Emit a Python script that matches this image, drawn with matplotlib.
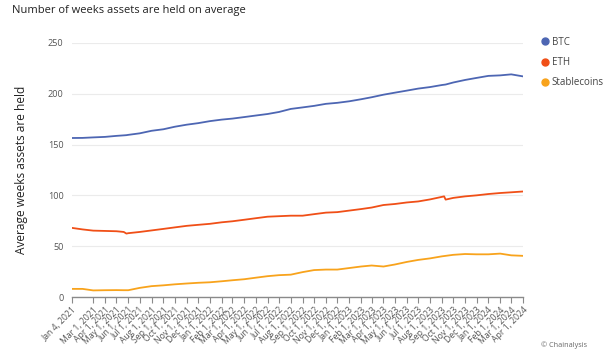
import numpy as np
import pandas as pd
import matplotlib
matplotlib.use("Agg")
import matplotlib.pyplot as plt
import matplotlib.dates as mdates
from matplotlib.lines import Line2D

plt.rcParams['font.family'] = ['Open Sans', 'DejaVu Sans']

# monthly readings, plus a couple of extra dates where the lines jump
dates = pd.to_datetime([
    "2021-01-04", "2021-02-01", "2021-03-01", "2021-04-01", "2021-05-01",
    "2021-05-20", "2021-05-27", "2021-06-01", "2021-07-01", "2021-08-01",
    "2021-09-01", "2021-10-01", "2021-11-01", "2021-12-01", "2022-01-01",
    "2022-02-01", "2022-03-01", "2022-04-01", "2022-05-01", "2022-06-01",
    "2022-07-01", "2022-08-01", "2022-09-01", "2022-10-01", "2022-11-01",
    "2022-12-01", "2023-01-01", "2023-02-01", "2023-03-01", "2023-04-01",
    "2023-05-01", "2023-06-01", "2023-07-01", "2023-08-01", "2023-09-01",
    "2023-09-07", "2023-09-11", "2023-10-01", "2023-11-01", "2023-12-01",
    "2024-01-01", "2024-02-01", "2024-03-01", "2024-04-01",
])

btc = [156.4, 156.5, 157.0, 157.5, 158.5,
       159.0, 159.2, 159.5, 161.0, 163.5,
       165.0, 167.5, 169.5, 171.0, 173.0,
       174.5, 175.5, 177.0, 178.5, 180.0,
       182.0, 185.0, 186.5, 188.0, 190.0,
       191.0, 192.5, 194.5, 196.5, 199.0,
       201.0, 203.0, 205.0, 206.5, 208.5,
       208.8, 209.0, 211.0, 213.5, 215.5,
       217.5, 218.0, 219.0, 217.0]

eth = [68.0, 66.5, 65.3, 65.0, 64.7,
       64.0, 62.4, 62.8, 64.0, 65.5,
       67.0, 68.5, 70.0, 71.0, 72.0,
       73.5, 74.5, 76.0, 77.5, 79.0,
       79.5, 80.0, 80.0, 81.5, 83.0,
       83.5, 85.0, 86.5, 88.0, 90.5,
       91.5, 93.0, 94.0, 96.0, 98.5,
       99.0, 95.8, 97.5, 99.0, 100.0,
       101.3, 102.3, 103.0, 103.8]

stable = [8.0, 8.0, 6.5, 6.7, 6.8,
          6.7, 6.7, 6.7, 9.0, 10.7,
          11.5, 12.5, 13.3, 14.0, 14.5,
          15.5, 16.5, 17.5, 19.0, 20.5,
          21.5, 22.0, 24.5, 26.5, 27.0,
          27.0, 28.5, 30.0, 31.0, 30.0,
          32.0, 34.5, 36.5, 38.0, 40.0,
          40.3, 40.5, 41.5, 42.3, 42.0,
          42.0, 42.7, 41.0, 40.5]

series_names = ["BTC", "ETH", "Stablecoins"]
colors = ["#4d66b3", "#f04f17", "#f8a31c"]

tick_dates = [pd.Timestamp("2021-01-04")] + list(pd.date_range("2021-03-01", "2024-04-01", freq="MS"))

fig = plt.figure(figsize=(6.04, 3.57), dpi=100)
ax = fig.add_axes([0.119, 0.168, 0.747, 0.712])

for vals, c in zip([btc, eth, stable], colors):
    ax.plot(dates, vals, color=c, lw=1.3, solid_joinstyle='round')

ax.set_ylim(0, 250)
ax.set_yticks([0, 50, 100, 150, 200, 250])
ax.set_xlim(pd.Timestamp("2021-01-04"), pd.Timestamp("2024-04-01"))
ax.set_xticks(tick_dates)
ax.set_xticklabels([f"{d.strftime('%b')} {d.day}, {d.year}" for d in tick_dates],
                   rotation=45, ha='right', rotation_mode='anchor')

ax.grid(axis='y', color='#ebebeb', lw=0.8)
ax.set_axisbelow(True)
for s in ['top', 'right', 'left']:
    ax.spines[s].set_visible(False)
ax.spines['bottom'].set_color('#8a8a8a')
ax.spines['bottom'].set_linewidth(1.0)
ax.tick_params(axis='x', length=4, width=0.8, color='#8a8a8a',
               labelsize=6.2, labelcolor='#555555', pad=2)
ax.tick_params(axis='y', length=0, labelsize=6.6, labelcolor='#555555', pad=6)

ax.set_ylabel("Average weeks assets are held", fontsize=8.6, color='#222222', labelpad=14)

fig.text(0.02, 0.985, "Number of weeks assets are held on average",
         fontsize=8.0, color='#222222', va='top', ha='left')

handles = [Line2D([], [], marker='o', ls='', color=c, markersize=5) for c in colors]
fig.legend(handles, series_names, loc='upper left', bbox_to_anchor=(0.888, 0.908),
           frameon=False, fontsize=7, labelcolor='#444444', handletextpad=0.2,
           labelspacing=0.95, borderaxespad=0, handlelength=1)

fig.text(0.972, 0.032, "© Chainalysis", fontsize=5.2, color='#666666', ha='right', va='center')

fig.savefig("out.png", dpi=100)
